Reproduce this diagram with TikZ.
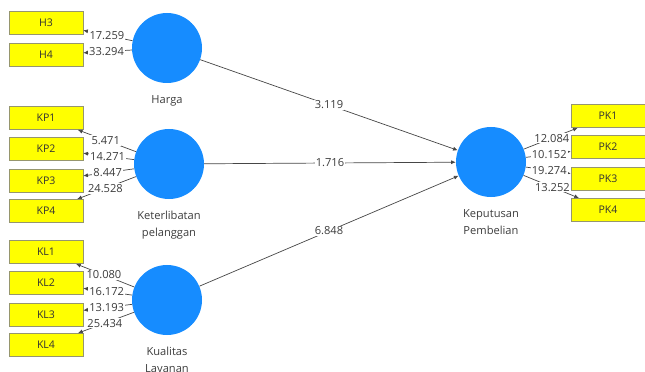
\documentclass[tikz,border=0pt]{standalone}
\usepackage{fontspec}
\setmainfont{Open Sans}
\usetikzlibrary{arrows.meta,positioning}
\definecolor{lvblue}{RGB}{22,140,255}
\definecolor{indyellow}{RGB}{255,255,0}
\definecolor{indedge}{RGB}{150,150,110}
\definecolor{linkgray}{RGB}{70,70,70}
\definecolor{txtgray}{RGB}{60,60,60}

\begin{document}
\begin{tikzpicture}[x=0.03cm, y=-0.03cm,
    latent/.style={circle, fill=lvblue, minimum size=2.1cm, inner sep=0pt},
    indicator/.style={rectangle, draw=indedge, fill=indyellow, minimum width=2.22cm,
      minimum height=0.7cm, inner sep=0pt, text=black!80, font=\fontsize{9}{11}\selectfont},
    caption/.style={align=center, text=txtgray, inner sep=0pt, font=\fontsize{9.5}{14.5}\selectfont},
    link/.style={draw=linkgray, line width=0.6pt, -{Latex[length=4pt,width=3.5pt]}},
    coef/.style={fill=white, inner sep=1pt, text=txtgray, font=\fontsize{9.5}{11}\selectfont}]
    \useasboundingbox (0,0) rectangle (645,372);

    % latent variables
    \node[latent] (harga)        at (167,48)  {};
    \node[latent] (keterlibatan) at (169,164) {};
    \node[latent] (kualitas)     at (167,300) {};
    \node[latent] (keputusan)    at (491,162) {};

    \node[caption, below=10pt of harga]        {Harga};
    \node[caption, below=10pt of keterlibatan] {Keterlibatan\\pelanggan};
    \node[caption, below=10pt of kualitas]     {Kualitas\\Layanan};
    \node[caption, below=10pt of keputusan]    {Keputusan\\Pembelian};

    % indicators
    \foreach \ind/\y in {H3/22.5, H4/55, KP1/118, KP2/148.5, KP3/181, KP4/211,
                         KL1/252, KL2/283, KL3/315, KL4/345}
        \node[indicator] (\ind) at (46,\y) {\ind};
    \foreach \ind/\y in {PK1/116, PK2/146.5, PK3/179, PK4/210}
        \node[indicator] (\ind) at (608,\y) {\ind};

    % outer loadings
    \foreach \lv/\ind/\val in {harga/H3/17.259, harga/H4/33.294,
            keterlibatan/KP1/5.471, keterlibatan/KP2/14.271,
            keterlibatan/KP3/8.447, keterlibatan/KP4/24.528,
            kualitas/KL1/10.080, kualitas/KL2/16.172,
            kualitas/KL3/13.193, kualitas/KL4/25.434,
            keputusan/PK1/12.084, keputusan/PK2/10.152,
            keputusan/PK3/19.274, keputusan/PK4/13.252}
        \draw[link] (\lv) -- node[coef, pos=0.52] {\val} (\ind);

    % inner model
    \draw[link] (harga)        -- node[coef] {3.119} (keputusan);
    \draw[link] (keterlibatan) -- node[coef] {1.716} (keputusan);
    \draw[link] (kualitas)     -- node[coef] {6.848} (keputusan);
\end{tikzpicture}
\end{document}
